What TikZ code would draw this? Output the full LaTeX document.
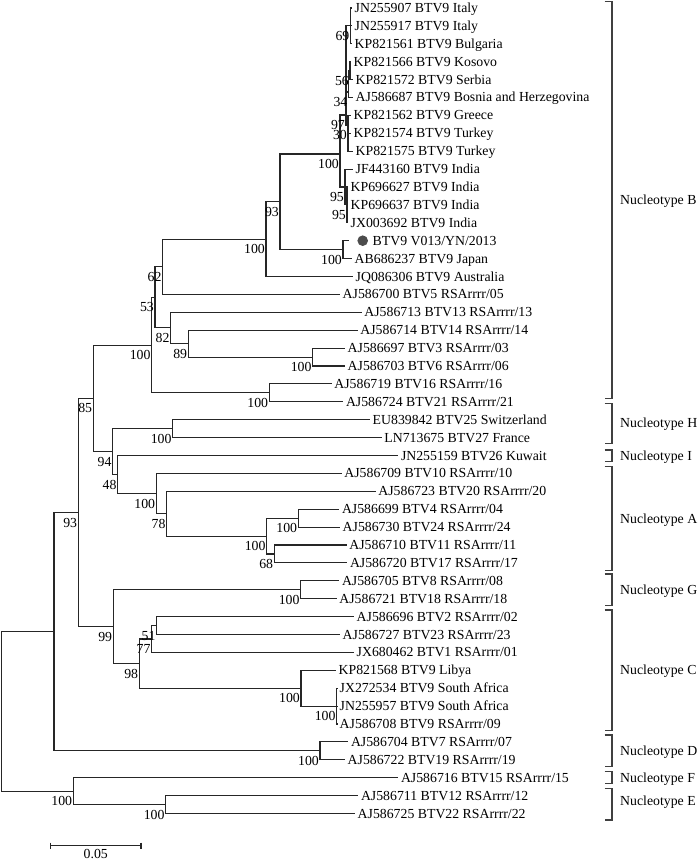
\documentclass[tikz,border=0pt]{standalone}
\usepackage{fontspec}
\setmainfont{Liberation Serif}
\usetikzlibrary{positioning}

\begin{document}
\begin{tikzpicture}[x=1pt,y=-1pt,
  font=\fontsize{13.8}{14}\selectfont,
  leaf/.style={anchor=west,inner xsep=2.5pt,inner ysep=0pt,text height=9pt,text depth=0pt},
  boot/.style={anchor=east,inner sep=1pt,yshift=-10pt,text height=9pt,text depth=0pt},
  branch/.style={draw=black!85,line width=1.1pt},
  bracket/.style={draw=black!75,line width=1.1pt},
  clade/.style={anchor=west,inner sep=0pt,text height=9pt,text depth=0pt},
  dot/.style={circle,fill=black!70,minimum size=10.6pt,inner sep=0pt}]
\useasboundingbox (0,0) rectangle (700,861);

% taxa
\node[leaf] (l1) at (352,8.0) {JN255907 BTV9 Italy};
\node[leaf] (l2) at (352,25.9) {JN255917 BTV9 Italy};
\node[leaf] (l3) at (352,43.8) {KP821561 BTV9 Bulgaria};
\node[leaf] (l4) at (351,61.7) {KP821566 BTV9 Kosovo};
\node[leaf] (l5) at (353,79.6) {KP821572 BTV9 Serbia};
\node[leaf] (l6) at (353,97.5) {AJ586687 BTV9 Bosnia and Herzegovina};
\node[leaf] (l7) at (351,115.4) {KP821562 BTV9 Greece};
\node[leaf] (l8) at (351,133.3) {KP821574 BTV9 Turkey};
\node[leaf] (l9) at (353,151.2) {KP821575 BTV9 Turkey};
\node[leaf] (l10) at (353,169.1) {JF443160 BTV9 India};
\node[leaf] (l11) at (348,187.0) {KP696627 BTV9 India};
\node[leaf] (l12) at (348,204.9) {KP696637 BTV9 India};
\node[leaf] (l13) at (348,222.8) {JX003692 BTV9 India};
\coordinate (t14) at (349,240.7);
\node[dot] (dot14) at (362.7,240.7) {};
\node[leaf] (l14) at (370,240.7) {BTV9 V013/YN/2013};
\node[leaf] (l15) at (352,258.6) {AB686237 BTV9 Japan};
\node[leaf] (l16) at (353,276.5) {JQ086306 BTV9 Australia};
\node[leaf] (l17) at (340,294.4) {AJ586700 BTV5 RSArrrr/05};
\node[leaf] (l18) at (361.7,312.3) {AJ586713 BTV13 RSArrrr/13};
\node[leaf] (l19) at (357.7,330.2) {AJ586714 BTV14 RSArrrr/14};
\node[leaf] (l20) at (345,348.1) {AJ586697 BTV3 RSArrrr/03};
\node[leaf] (l21) at (345,366.0) {AJ586703 BTV6 RSArrrr/06};
\node[leaf] (l22) at (331.7,383.9) {AJ586719 BTV16 RSArrrr/16};
\node[leaf] (l23) at (343.3,401.8) {AJ586724 BTV21 RSArrrr/21};
\node[leaf] (l24) at (370,419.7) {EU839842 BTV25 Switzerland};
\node[leaf] (l25) at (381.7,437.6) {LN713675 BTV27 France};
\node[leaf] (l26) at (398.3,455.5) {JN255159 BTV26 Kuwait};
\node[leaf] (l27) at (341.7,473.4) {AJ586709 BTV10 RSArrrr/10};
\node[leaf] (l28) at (375.7,491.3) {AJ586723 BTV20 RSArrrr/20};
\node[leaf] (l29) at (339.3,509.2) {AJ586699 BTV4 RSArrrr/04};
\node[leaf] (l30) at (340,527.1) {AJ586730 BTV24 RSArrrr/24};
\node[leaf] (l31) at (346.7,545.0) {AJ586710 BTV11 RSArrrr/11};
\node[leaf] (l32) at (347.3,562.9) {AJ586720 BTV17 RSArrrr/17};
\node[leaf] (l33) at (339.3,580.8) {AJ586705 BTV8 RSArrrr/08};
\node[leaf] (l34) at (336.7,598.7) {AJ586721 BTV18 RSArrrr/18};
\node[leaf] (l35) at (354,616.6) {AJ586696 BTV2 RSArrrr/02};
\node[leaf] (l36) at (340,634.5) {AJ586727 BTV23 RSArrrr/23};
\node[leaf] (l37) at (354,652.4) {JX680462 BTV1 RSArrrr/01};
\node[leaf] (l38) at (336,670.3) {KP821568 BTV9 Libya};
\node[leaf] (l39) at (337,688.2) {JX272534 BTV9 South Africa};
\node[leaf] (l40) at (337,706.1) {JN255957 BTV9 South Africa};
\node[leaf] (l41) at (337,724.0) {AJ586708 BTV9 RSArrrr/09};
\node[leaf] (l42) at (348.3,741.9) {AJ586704 BTV7 RSArrrr/07};
\node[leaf] (l43) at (345,759.8) {AJ586722 BTV19 RSArrrr/19};
\node[leaf] (l44) at (398.3,777.7) {AJ586716 BTV15 RSArrrr/15};
\node[leaf] (l45) at (358.3,795.6) {AJ586711 BTV12 RSArrrr/12};
\node[leaf] (l46) at (355,813.5) {AJ586725 BTV22 RSArrrr/22};

% internal nodes
\coordinate (n69) at (350.5,25.9);
\coordinate (n56) at (350,70.65);
\coordinate (n34) at (348.5,92);
\coordinate (n30) at (348,125);
\coordinate (n97) at (346,115);
\coordinate (n95b) at (347,204.9);
\coordinate (n95a) at (345,187);
\coordinate (nEu) at (340,154);
\coordinate (nJp) at (343,249.65);
\coordinate (n93a) at (280,201.8);
\coordinate (nAu) at (266,239.2);
\coordinate (n62) at (162.7,266.8);
\coordinate (nR3) at (312.7,357.05);
\coordinate (n89) at (188.3,343.6);
\coordinate (n82) at (170.7,327.9);
\coordinate (n53) at (155,297.4);
\coordinate (nR16) at (269.3,392.85);
\coordinate (nBt) at (151.7,345.1);
\coordinate (nH) at (172.7,428.65);
\coordinate (nR4) at (298.3,518.15);
\coordinate (n68) at (274.3,553.95);
\coordinate (nR4b) at (266.7,536.05);
\coordinate (n78) at (166.7,513.7);
\coordinate (nA) at (156.3,493.55);
\coordinate (n48) at (117.7,474.5);
\coordinate (n94) at (112.7,451.6);
\coordinate (n85) at (93.3,398.35);
\coordinate (nG) at (300.7,589.75);
\coordinate (n51) at (156.7,625.55);
\coordinate (n77) at (151.7,638.95);
\coordinate (nSA) at (336.7,706.1);
\coordinate (nLy) at (301,688.2);
\coordinate (n98) at (139.3,663.6);
\coordinate (n99) at (113.3,626.7);
\coordinate (n93b) at (78.3,512.5);
\coordinate (nD) at (320,750.85);
\coordinate (nTop) at (54,631.7);
\coordinate (nE) at (165.7,804.55);
\coordinate (nF) at (73.3,791.1);
\coordinate (nRoot) at (1.7,711.4);

% branches
\draw[branch] (n69) |- (l1.west) (n69) |- (l2.west) (n69) |- (l3.west);
\draw[branch] (n56) |- (l4.west) (n56) |- (l5.west);
\draw[branch] (n34) |- (n56) (n34) |- (l6.west);
\draw[branch] (n30) |- (l7.west) (n30) |- (l8.west) (n30) |- (l9.west);
\draw[branch] (n97) |- (n69) (n97) |- (n34) (n97) |- (n30);
\draw[branch] (n95b) |- (l11.west) (n95b) |- (l12.west) (n95b) |- (l13.west);
\draw[branch] (n95a) |- (l10.west) (n95a) |- (n95b);
\draw[branch] (nEu) |- (n97) (nEu) |- (n95a);
\draw[branch] (nJp) |- (t14) (nJp) |- (l15.west);
\draw[branch] (n93a) |- (nEu) (n93a) |- (nJp);
\draw[branch] (nAu) |- (n93a) (nAu) |- (l16.west);
\draw[branch] (n62) |- (nAu) (n62) |- (l17.west);
\draw[branch] (nR3) |- (l20.west) (nR3) |- (l21.west);
\draw[branch] (n89) |- (l19.west) (n89) |- (nR3);
\draw[branch] (n82) |- (l18.west) (n82) |- (n89);
\draw[branch] (n53) |- (n62) (n53) |- (n82);
\draw[branch] (nR16) |- (l22.west) (nR16) |- (l23.west);
\draw[branch] (nBt) |- (n53) (nBt) |- (nR16);
\draw[branch] (nH) |- (l24.west) (nH) |- (l25.west);
\draw[branch] (nR4) |- (l29.west) (nR4) |- (l30.west);
\draw[branch] (n68) |- (l31.west) (n68) |- (l32.west);
\draw[branch] (nR4b) |- (nR4) (nR4b) |- (n68);
\draw[branch] (n78) |- (l28.west) (n78) |- (nR4b);
\draw[branch] (nA) |- (l27.west) (nA) |- (n78);
\draw[branch] (n48) |- (l26.west) (n48) |- (nA);
\draw[branch] (n94) |- (nH) (n94) |- (n48);
\draw[branch] (n85) |- (nBt) (n85) |- (n94);
\draw[branch] (nG) |- (l33.west) (nG) |- (l34.west);
\draw[branch] (n51) |- (l35.west) (n51) |- (l36.west);
\draw[branch] (n77) |- (n51) (n77) |- (l37.west);
\draw[branch] (nSA) |- (l39.west) (nSA) |- (l40.west) (nSA) |- (l41.west);
\draw[branch] (nLy) |- (l38.west) (nLy) |- (nSA);
\draw[branch] (n98) |- (n77) (n98) |- (nLy);
\draw[branch] (n99) |- (nG) (n99) |- (n98);
\draw[branch] (n93b) |- (n85) (n93b) |- (n99);
\draw[branch] (nD) |- (l42.west) (nD) |- (l43.west);
\draw[branch] (nTop) |- (n93b) (nTop) |- (nD);
\draw[branch] (nE) |- (l45.west) (nE) |- (l46.west);
\draw[branch] (nF) |- (l44.west) (nF) |- (nE);
\draw[branch] (nRoot) |- (nTop) (nRoot) |- (nF);

% bootstrap values
\node[boot] at (n69) {69};
\node[boot] at (n56) {56};
\node[boot] at (n34) {34};
\node[boot] at (n97) {97};
\node[boot] at (n30) {30};
\node[boot] at (nEu) {100};
\node[boot] at (n95a) {95};
\node[boot] at (n95b) {95};
\node[boot] at (nJp) {100};
\node[boot] at (n93a) {93};
\node[boot] at (nAu) {100};
\node[boot] at (n62) {62};
\node[boot] at (n53) {53};
\node[boot] at (n82) {82};
\node[boot] at (n89) {89};
\node[boot] at (nR3) {100};
\node[boot] at (nBt) {100};
\node[boot] at (nR16) {100};
\node[boot] at (n85) {85};
\node[boot] at (nH) {100};
\node[boot] at (n94) {94};
\node[boot] at (n48) {48};
\node[boot] at (nA) {100};
\node[boot] at (n78) {78};
\node[boot] at (nR4b) {100};
\node[boot] at (nR4) {100};
\node[boot] at (n68) {68};
\node[boot] at (n93b) {93};
\node[boot] at (nG) {100};
\node[boot] at (n99) {99};
\node[boot] at (n51) {51};
\node[boot] at (n77) {77};
\node[boot] at (n98) {98};
\node[boot] at (nLy) {100};
\node[boot] at (nSA) {100};
\node[boot] at (nD) {100};
\node[boot] at (nE) {100};
\node[boot] at (nF) {100};

% nucleotype brackets
\draw[bracket] (604.5,1.7) -| (612,398.3) -- (604.5,398.3);
\node[clade] (cB) at (620,200) {Nucleotype B};
\draw[bracket] (604.5,403.3) -| (612,443.3) -- (604.5,443.3);
\node[clade] (cH) at (620,423.3) {Nucleotype H};
\draw[bracket] (604.5,450) -| (612,461.7) -- (604.5,461.7);
\node[clade] (cI) at (620,455.9) {Nucleotype I};
\draw[bracket] (604.5,466.7) -| (612,570.7) -- (604.5,570.7);
\node[clade] (cA) at (620,518.7) {Nucleotype A};
\draw[bracket] (604.5,574) -| (612,605.7) -- (604.5,605.7);
\node[clade] (cG) at (620,589.9) {Nucleotype G};
\draw[bracket] (604.5,610) -| (612,730.7) -- (604.5,730.7);
\node[clade] (cC) at (620,670.4) {Nucleotype C};
\draw[bracket] (604.5,735) -| (612,766.7) -- (604.5,766.7);
\node[clade] (cD) at (620,750.9) {Nucleotype D};
\draw[bracket] (604.5,771.7) -| (612,783.3) -- (604.5,783.3);
\node[clade] (cF) at (620,777.5) {Nucleotype F};
\draw[bracket] (604.5,788.3) -| (612,820) -- (604.5,820);
\node[clade] (cE) at (620,801) {Nucleotype E};

% scale bar
\draw[branch] (50.7,842.7) -- (50.7,848.7) (50.7,845.7) -- (141,845.7) (141,842.7) -- (141,848.7);
\node[clade,anchor=center] (scale) at (95.8,854.2) {0.05};
\end{tikzpicture}
\end{document}
